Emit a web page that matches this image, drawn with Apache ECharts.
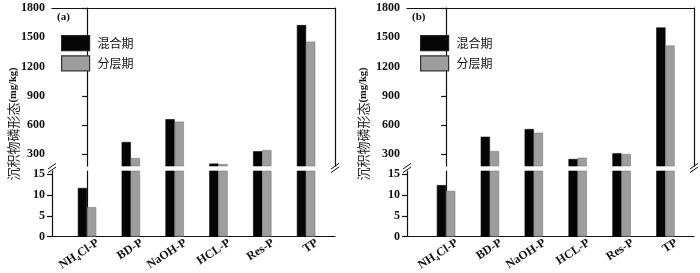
<!DOCTYPE html>
<html>
<head>
<meta charset="utf-8">
<script src="https://cdn.jsdelivr.net/npm/echarts@6/dist/echarts.min.js"></script>
<style>html,body{margin:0;padding:0;background:#fff;}#c{width:700px;height:273px;}</style>
</head>
<body>
<div id="c"></div>
<script>
// ---- data ----
const categories = ['NH4Cl-P', 'BD-P', 'NaOH-P', 'HCL-P', 'Res-P', 'TP'];
const seriesNames = ['混合期', '分层期'];
const mixA = [11.7, 426, 660, 205, 331, 1625];
const stratA = [7.1, 262, 635, 200, 344, 1455];
const mixB = [12.4, 480, 559, 252, 310, 1600];
const stratB = [11.0, 334, 521, 265, 303, 1415];
const upperTicks = [300, 600, 900, 1200, 1500, 1800];
const lowerTicks = [0, 5, 10, 15];
const panelLabels = ['(a)', '(b)'];
const yTitle = '沉积物磷形态';
const yUnit = '(mg/kg)';

// ---- layout ----
const panels = [
  { left: 52, width: 283, xMin: -0.8, xMax: 5.66, legendLeft: 56, titleX: 13 },
  { left: 407, width: 287, xMin: -0.89, xMax: 5.65, legendLeft: 415, titleX: 363 }
];
const upperTop = 8, upperH = 158, lowerTop = 171, lowerH = 65.5;
const upperMin = 180, upperMax = 1800, lowerMin = 0, lowerMax = 15.8;
const labelShift = 11;
const serif = 'Liberation Serif';
const cjk = 'Noto Sans CJK SC';
const BLACK = '#050505', GRAY = '#9d9d9d';

const chart = echarts.init(document.getElementById('c'), null, { renderer: 'canvas' });

const grids = [], xAxes = [], yAxes = [], series = [], legends = [], graphics = [];
const dataSets = [[mixA, stratA], [mixB, stratB]];

panels.forEach((p, pi) => {
  const gU = grids.length;
  grids.push({ left: p.left, top: upperTop, width: p.width, height: upperH });
  grids.push({ left: p.left, top: lowerTop, width: p.width, height: lowerH });
  const gL = gU + 1;
  const unit = p.width / (p.xMax - p.xMin);
  const gLab = gU + 2;
  grids.push({ left: p.left + (-0.5 - p.xMin) * unit + labelShift, top: lowerTop, width: 6 * unit, height: lowerH });
  const xBase = {
    type: 'value', min: p.xMin, max: p.xMax,
    splitLine: { show: false }, axisTick: { show: false }, axisLabel: { show: false },
    axisLine: { show: true, onZero: false, lineStyle: { color: '#111', width: 1.2 } }
  };
  const xU = xAxes.length;
  xAxes.push(Object.assign({}, xBase, { gridIndex: gU, position: 'top' }));
  const xL = xAxes.length;
  xAxes.push(Object.assign({}, xBase, { gridIndex: gL, position: 'bottom' }));
  xAxes.push({
    gridIndex: gLab, type: 'category', data: categories, position: 'bottom',
    axisLine: { show: false }, axisTick: { show: false }, splitLine: { show: false },
    axisLabel: {
      show: true, rotate: 33, margin: 6, interval: 0, hideOverlap: false,
      formatter: v => v.replace('NH4', 'NH\u2084'),
      fontFamily: serif, fontWeight: 'bold', fontSize: 12, color: '#111'
    }
  });
  const yLabel = { fontFamily: serif, fontWeight: 'bold', fontSize: 12, color: '#111', margin: 7, formatter: v => String(v) };
  const tick = { show: true, inside: false, length: 5, lineStyle: { color: '#111', width: 1.2 } };
  const yU = yAxes.length;
  yAxes.push({
    gridIndex: gU, type: 'value', min: upperMin, max: upperMax, position: 'left',
    splitLine: { show: false },
    axisLine: { show: true, lineStyle: { color: '#111', width: 1.2 } },
    axisTick: Object.assign({ customValues: upperTicks }, tick),
    axisLabel: Object.assign({ customValues: upperTicks }, yLabel)
  });
  yAxes.push({
    gridIndex: gU, type: 'value', min: upperMin, max: upperMax, position: 'right',
    splitLine: { show: false }, axisTick: { show: false }, axisLabel: { show: false },
    axisLine: { show: true, lineStyle: { color: '#111', width: 1.2 } }
  });
  const yL = yAxes.length;
  yAxes.push({
    gridIndex: gL, type: 'value', min: lowerMin, max: lowerMax, position: 'left',
    splitLine: { show: false },
    axisLine: { show: true, onZero: false, lineStyle: { color: '#111', width: 1.2 } },
    axisTick: Object.assign({ customValues: lowerTicks }, tick),
    axisLabel: Object.assign({ customValues: lowerTicks }, yLabel)
  });
  yAxes.push({
    gridIndex: gL, type: 'value', min: lowerMin, max: lowerMax, position: 'right',
    splitLine: { show: false }, axisTick: { show: false }, axisLabel: { show: false },
    axisLine: { show: true, lineStyle: { color: '#111', width: 1.2 } }
  });
  yAxes.push({ gridIndex: gLab, type: 'value', min: 0, max: 1, show: false });
  const colors = [BLACK, GRAY];
  const borders = ['#000', '#7c7c7c'];
  [[xU, yU, upperMin], [xL, yL, -Infinity]].forEach(([xi, yi, lo]) => {
    dataSets[pi].forEach((arr, si) => {
      series.push({
        name: seriesNames[si], type: 'bar', xAxisIndex: xi, yAxisIndex: yi,
        barWidth: 9.2, barGap: '0%', clip: true,
        itemStyle: { color: colors[si], borderColor: borders[si], borderWidth: 0.6 },
        data: arr.map((v, i) => [i, v < lo ? '-' : v])
      });
    });
  });
  legends.push({
    left: p.legendLeft, top: 30, orient: 'vertical', itemWidth: 28, itemHeight: 15, itemGap: 4,
    icon: 'rect',
    textStyle: { fontFamily: cjk, fontSize: 12, color: '#111', padding: [0, 0, 0, 3] },
    data: [
      { name: seriesNames[0], itemStyle: { color: BLACK, borderColor: '#222', borderWidth: 1.2 } },
      { name: seriesNames[1], itemStyle: { color: GRAY, borderColor: '#333', borderWidth: 1.2 } }
    ],
    selectedMode: false
  });
  graphics.push({
    type: 'text', x: p.left + 5, y: upperTop + 9,
    style: { text: panelLabels[pi], font: 'bold 11px "Liberation Serif"', fill: '#111', textVerticalAlign: 'middle' }
  });
  graphics.push({
    type: 'text', x: p.titleX, y: 124, rotation: Math.PI / 2,
    style: {
      text: '{c|' + yTitle + '}{e|' + yUnit + '}',
      rich: {
        c: { fontFamily: cjk, fontSize: 13, fill: '#222', color: '#222' },
        e: { fontFamily: serif, fontWeight: 'bold', fontSize: 10.5, fill: '#111', color: '#111' }
      },
      textAlign: 'center', textVerticalAlign: 'middle'
    }
  });
  const yBreak = (upperTop + upperH + lowerTop) / 2 - 0.5;
  [p.left, p.left + p.width].forEach(xb => {
    [-1.8, 1.8].forEach(d => {
      graphics.push({
        type: 'line',
        shape: { x1: xb - 4, y1: yBreak + d + 2.8, x2: xb + 4, y2: yBreak + d - 2.8 },
        style: { stroke: '#111', lineWidth: 1 }
      });
    });
  });
});

chart.setOption({
  animation: false,
  backgroundColor: '#fff',
  grid: grids,
  xAxis: xAxes,
  yAxis: yAxes,
  legend: legends,
  series: series,
  graphic: graphics
});
</script>
</body>
</html>
